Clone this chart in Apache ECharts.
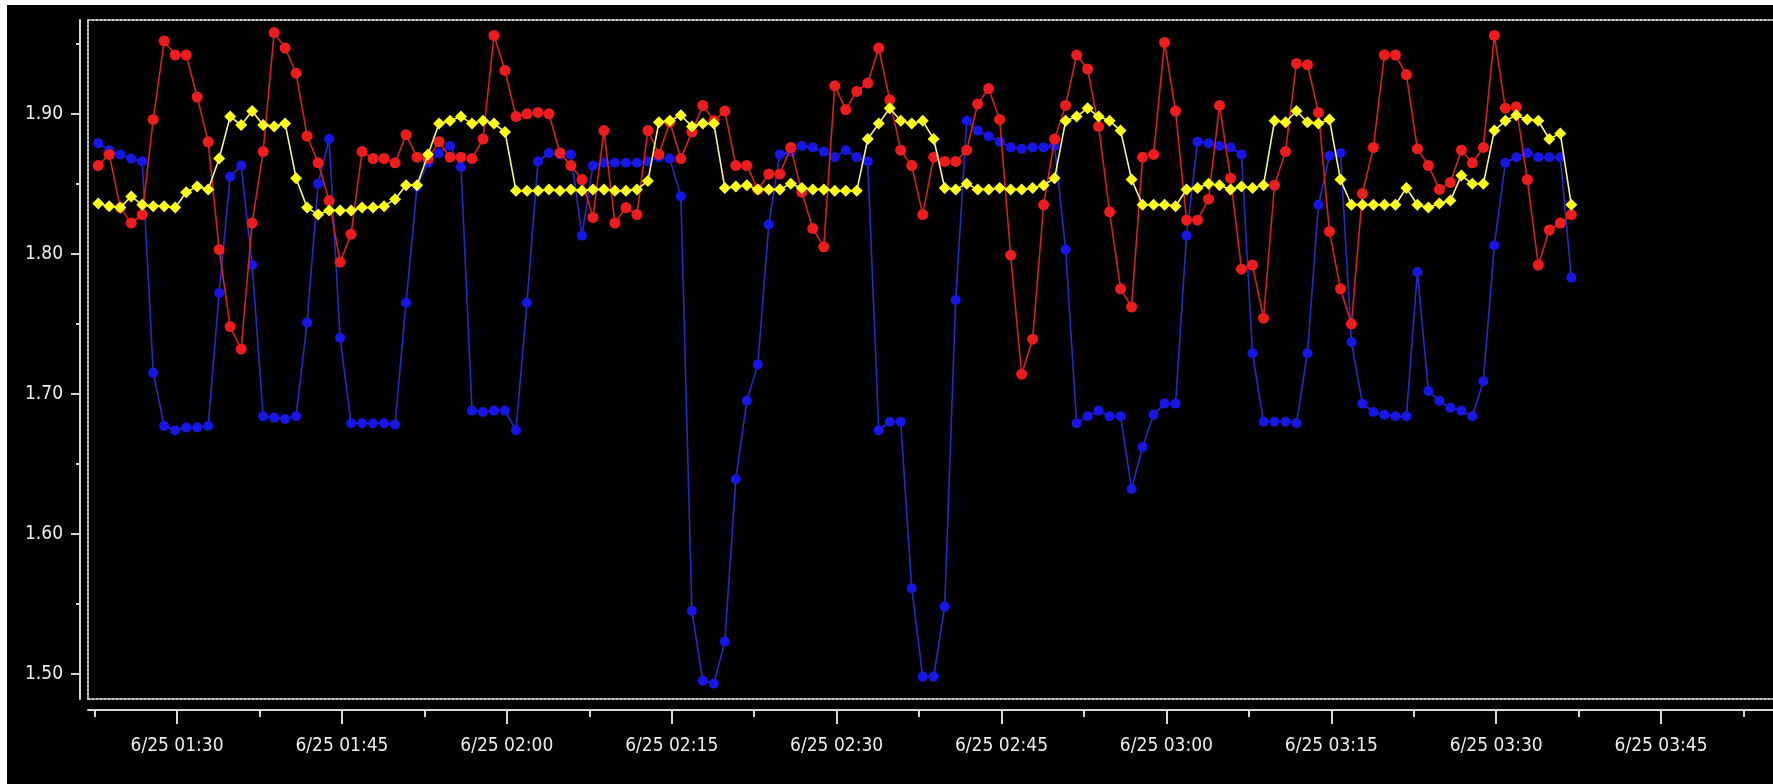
<!DOCTYPE html>
<html>
<head>
<meta charset="utf-8">
<script src="https://cdn.jsdelivr.net/npm/echarts@6/dist/echarts.min.js"></script>
<style>
  html, body { margin: 0; padding: 0; background: #ffffff; overflow: hidden; width: 1773px; height: 784px; }
  #chart { position: absolute; left: 7px; top: 5px; width: 1775px; height: 779px; background: #000000; }
</style>
</head>
<body>
<div id="chart"></div>
<script>
// ---- data (one sample per minute, starting 6/25 01:22:50) ----
const startTime = '01:22:50';
const stepMinutes = 1;

const blueValues = [
  1.879, 1.874, 1.871, 1.868, 1.866, 1.715, 1.677, 1.674, 1.676, 1.676,
  1.677, 1.772, 1.855, 1.863, 1.792, 1.684, 1.683, 1.682, 1.684, 1.751,
  1.850, 1.882, 1.740, 1.679, 1.679, 1.679, 1.679, 1.678, 1.765, 1.848,
  1.865, 1.872, 1.877, 1.862, 1.688, 1.687, 1.688, 1.688, 1.674, 1.765,
  1.866, 1.872, 1.871, 1.871, 1.813, 1.863, 1.865, 1.865, 1.865, 1.865,
  1.866, 1.869, 1.868, 1.841, 1.545, 1.495, 1.493, 1.523, 1.639, 1.695,
  1.721, 1.821, 1.871, 1.873, 1.877, 1.876, 1.873, 1.869, 1.874, 1.869,
  1.866, 1.674, 1.680, 1.680, 1.561, 1.498, 1.498, 1.548, 1.767, 1.895,
  1.888, 1.884, 1.880, 1.876, 1.875, 1.876, 1.876, 1.877, 1.803, 1.679,
  1.684, 1.688, 1.684, 1.684, 1.632, 1.662, 1.685, 1.693, 1.693, 1.813,
  1.880, 1.879, 1.877, 1.876, 1.871, 1.729, 1.680, 1.680, 1.680, 1.679,
  1.729, 1.835, 1.870, 1.872, 1.737, 1.693, 1.687, 1.685, 1.684, 1.684,
  1.787, 1.702, 1.695, 1.690, 1.688, 1.684, 1.709, 1.806, 1.865, 1.869,
  1.872, 1.869, 1.869, 1.869, 1.783
];

const redValues = [
  1.863, 1.871, 1.833, 1.822, 1.828, 1.896, 1.952, 1.942, 1.942, 1.912,
  1.880, 1.803, 1.748, 1.732, 1.822, 1.873, 1.958, 1.947, 1.929, 1.884,
  1.865, 1.838, 1.794, 1.814, 1.873, 1.868, 1.868, 1.865, 1.885, 1.869,
  1.868, 1.880, 1.869, 1.869, 1.868, 1.882, 1.956, 1.931, 1.898, 1.900,
  1.901, 1.900, 1.872, 1.863, 1.853, 1.826, 1.888, 1.822, 1.833, 1.828,
  1.888, 1.871, 1.894, 1.868, 1.887, 1.906, 1.895, 1.902, 1.863, 1.863,
  1.846, 1.857, 1.857, 1.876, 1.844, 1.818, 1.805, 1.920, 1.903, 1.916,
  1.922, 1.947, 1.910, 1.874, 1.863, 1.828, 1.869, 1.866, 1.866, 1.874,
  1.907, 1.918, 1.896, 1.799, 1.714, 1.739, 1.835, 1.882, 1.906, 1.942,
  1.932, 1.891, 1.830, 1.775, 1.762, 1.869, 1.871, 1.951, 1.902, 1.824,
  1.824, 1.839, 1.906, 1.854, 1.789, 1.792, 1.754, 1.849, 1.873, 1.936,
  1.935, 1.901, 1.816, 1.775, 1.750, 1.843, 1.876, 1.942, 1.942, 1.928,
  1.875, 1.863, 1.846, 1.851, 1.874, 1.865, 1.876, 1.956, 1.904, 1.905,
  1.853, 1.792, 1.817, 1.822, 1.828
];

const yellowValues = [
  1.836, 1.834, 1.833, 1.841, 1.835, 1.834, 1.834, 1.833, 1.844, 1.848,
  1.846, 1.868, 1.898, 1.892, 1.902, 1.892, 1.891, 1.893, 1.854, 1.833,
  1.828, 1.831, 1.831, 1.831, 1.833, 1.833, 1.834, 1.839, 1.849, 1.849,
  1.871, 1.893, 1.895, 1.898, 1.893, 1.895, 1.893, 1.887, 1.845, 1.845,
  1.845, 1.846, 1.845, 1.846, 1.845, 1.846, 1.846, 1.845, 1.845, 1.846,
  1.852, 1.894, 1.895, 1.899, 1.891, 1.893, 1.893, 1.847, 1.848, 1.849,
  1.846, 1.846, 1.846, 1.850, 1.847, 1.846, 1.846, 1.845, 1.845, 1.845,
  1.882, 1.893, 1.904, 1.895, 1.893, 1.895, 1.882, 1.847, 1.846, 1.850,
  1.846, 1.846, 1.847, 1.846, 1.846, 1.847, 1.849, 1.854, 1.895, 1.898,
  1.904, 1.898, 1.895, 1.888, 1.853, 1.835, 1.835, 1.835, 1.834, 1.846,
  1.847, 1.850, 1.849, 1.846, 1.848, 1.847, 1.849, 1.895, 1.894, 1.902,
  1.894, 1.893, 1.896, 1.853, 1.835, 1.835, 1.835, 1.835, 1.835, 1.847,
  1.835, 1.833, 1.836, 1.838, 1.856, 1.850, 1.850, 1.888, 1.895, 1.899,
  1.896, 1.895, 1.882, 1.886, 1.835
];

// ---- axis ticks / labels ----
const yTickValues = [1.50, 1.60, 1.70, 1.80, 1.90];
const yMinorTickValues = [1.55, 1.65, 1.75, 1.85, 1.95];
const xLabelTimes = ['01:30', '01:45', '02:00', '02:15', '02:30', '02:45', '03:00', '03:15', '03:30', '03:45'];
const xMinorTickTimes = ['01:22:30', '01:37:30', '01:52:30', '02:07:30', '02:22:30', '02:37:30', '02:52:30', '03:07:30', '03:22:30', '03:37:30', '03:52:30'];
const xRange = ['01:21:54', '03:56:00'];
const yRange = [1.482, 1.967];

function at(hms) {
  const p = hms.split(':').map(Number);
  return new Date(2010, 5, 25, p[0], p[1], p[2] || 0).getTime();
}
const t0 = at(startTime);
function toSeries(values) {
  return values.map((v, i) => [t0 + i * stepMinutes * 60000, v]);
}
function pad(n) { return (n < 10 ? '0' : '') + n; }
function fmtTime(v) {
  const d = new Date(v);
  return (d.getMonth() + 1) + '/' + d.getDate() + ' ' + pad(d.getHours()) + ':' + pad(d.getMinutes());
}

const axisColor = '#d8d8d8';
const labelFont = { color: '#ececec', fontFamily: "'Liberation Sans Narrow', 'DejaVu Sans Condensed', 'Liberation Sans', sans-serif", fontSize: 19 };
const frameLine = { show: true, lineStyle: { color: '#c4c4c4', width: 2, type: [2, 2] } };

function xAxisBase(extra) {
  return Object.assign({
    type: 'value', min: at(xRange[0]), max: at(xRange[1]),
    axisLine: { show: false }, axisTick: { show: false }, axisLabel: { show: false },
    splitLine: { show: false }
  }, extra);
}
function yAxisBase(extra) {
  return Object.assign({
    type: 'value', min: yRange[0], max: yRange[1],
    axisLine: { show: false }, axisTick: { show: false }, axisLabel: { show: false },
    splitLine: { show: false }
  }, extra);
}

const chart = echarts.init(document.getElementById('chart'), null, { renderer: 'canvas' });
chart.setOption({
  backgroundColor: '#000000',
  animation: false,
  grid: { left: 81, right: 0, top: 15, bottom: 85, containLabel: false },
  xAxis: [
    xAxisBase({ // main axis with labels + major ticks
      position: 'bottom', offset: 11,
      axisLine: { show: true, lineStyle: { color: axisColor, width: 2 } },
      axisTick: { show: true, length: 14, lineStyle: { color: axisColor, width: 2 }, customValues: xLabelTimes.map(at) },
      axisLabel: Object.assign({ show: true, margin: 27, formatter: fmtTime, customValues: xLabelTimes.map(at) }, labelFont)
    }),
    xAxisBase({ // minor ticks
      position: 'bottom', offset: 11,
      axisTick: { show: true, length: 7, lineStyle: { color: axisColor, width: 2 }, customValues: xMinorTickTimes.map(at) }
    }),
    xAxisBase({ position: 'bottom', offset: 0, axisLine: frameLine }), // dotted frame bottom
    xAxisBase({ position: 'top', offset: 0, axisLine: frameLine })     // dotted frame top
  ],
  yAxis: [
    yAxisBase({
      position: 'left', offset: 8,
      axisLine: { show: true, lineStyle: { color: axisColor, width: 2 } },
      axisTick: { show: true, length: 9, lineStyle: { color: axisColor, width: 2 }, customValues: yTickValues },
      axisLabel: Object.assign({ show: true, margin: 17, formatter: v => v.toFixed(2), customValues: yTickValues }, labelFont)
    }),
    yAxisBase({
      position: 'left', offset: 8,
      axisTick: { show: true, length: 4, lineStyle: { color: axisColor, width: 2 }, customValues: yMinorTickValues }
    }),
    yAxisBase({ position: 'left', offset: 0, axisLine: frameLine })
  ],
  series: [
    {
      name: 'blue', type: 'line', data: toSeries(blueValues),
      symbol: 'circle', symbolSize: 10,
      itemStyle: { color: '#1616e8' },
      lineStyle: { color: '#2828cc', width: 1.6 },
      z: 2
    },
    {
      name: 'red', type: 'line', data: toSeries(redValues),
      symbol: 'circle', symbolSize: 11,
      itemStyle: { color: '#ee1c1c' },
      lineStyle: { color: '#d82020', width: 1.6 },
      z: 3
    },
    {
      name: 'yellow', type: 'line', data: toSeries(yellowValues),
      symbol: 'diamond', symbolSize: 12,
      itemStyle: { color: '#ffff1a' },
      lineStyle: { color: '#f4f48a', width: 1.6 },
      z: 4
    }
  ]
});
</script>
</body>
</html>
